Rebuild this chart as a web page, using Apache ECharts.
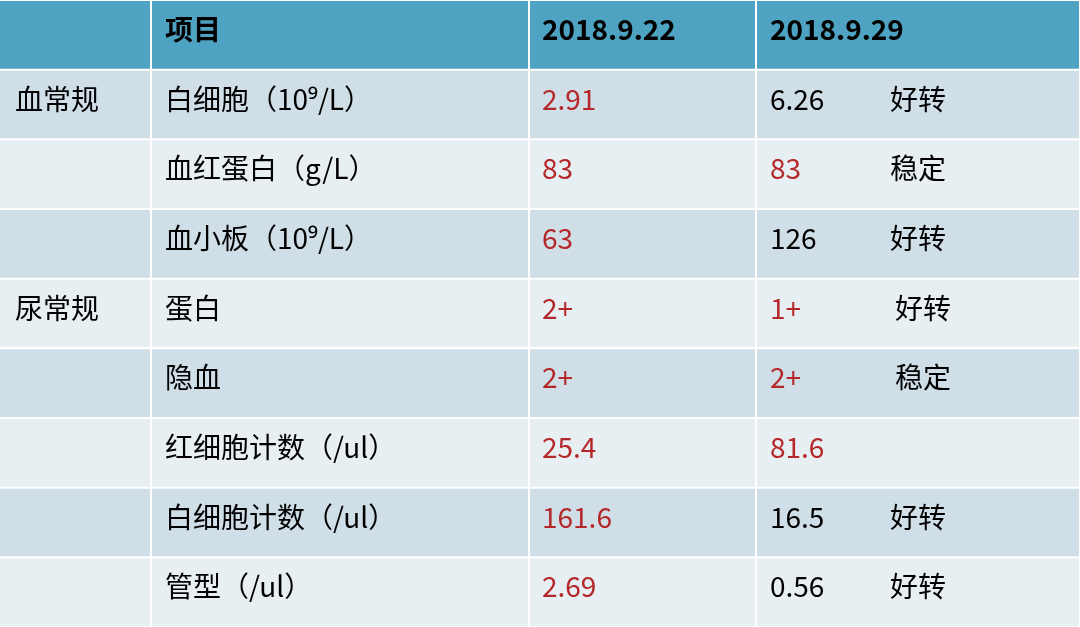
<!DOCTYPE html>
<html><head><meta charset="utf-8">
<script src="https://cdn.jsdelivr.net/npm/echarts@6/dist/echarts.min.js"></script>
<style>html,body{margin:0;padding:0;background:#fff}#c{width:1080px;height:627px}</style>
</head><body><div id="c"></div>
<script>
const header = ['', '项目', '2018.9.22', '2018.9.29'];
const groups = ['血常规', '', '', '尿常规', '', '', '', ''];
const items = ['白细胞（10⁹/L）', '血红蛋白（g/L）', '血小板（10⁹/L）', '蛋白', '隐血', '红细胞计数（/ul）', '白细胞计数（/ul）', '管型（/ul）'];
const val1 = ['2.91', '83', '63', '2+', '2+', '25.4', '161.6', '2.69'];
const val1Red = [true, true, true, true, true, true, true, true];
const val2 = ['6.26', '83', '126', '1+', '2+', '81.6', '16.5', '0.56'];
const val2Red = [false, true, false, true, true, true, false, false];
const status = ['好转', '稳定', '好转', '好转', '稳定', '', '好转', '好转'];

const W = 1080;
const edges = [0, 151, 529, 756, 1080];
const textX = [15, 165, 542, 770];
const statusX = [890, 890, 890, 895, 895, 890, 890, 890];
const RED = '#b5282a';
const FONT = '"Noto Sans CJK SC", "Noto Sans", sans-serif';

const rows = [];
rows.push({cells: header, colors: ['#000','#000','#000','#000'], st: '', stX: 0, head: true});
for (let i = 0; i < items.length; i++) {
  rows.push({cells: [groups[i], items[i], val1[i], val2[i]],
    colors: ['#000', '#000', val1Red[i] ? RED : '#000', val2Red[i] ? RED : '#000'],
    st: status[i], stX: statusX[i], head: false});
}

const chart = echarts.init(document.getElementById('c'));
chart.setOption({
  animation: false,
  grid: {left: 0, right: 0, top: 0, bottom: 0},
  xAxis: {type: 'value', min: 0, max: W, show: false},
  yAxis: {type: 'category', inverse: true, data: rows.map((r, i) => i), show: false},
  series: [{
    type: 'custom',
    data: rows.map((r, i) => [0, i]),
    renderItem: function (params, api) {
      const idx = api.value(1);
      const r = rows[idx];
      const cy = api.coord([0, idx])[1];
      const h = api.size([0, 1])[1];
      const top = cy - h / 2;
      const x0 = api.coord([0, idx])[0];
      const sx = api.size([1, 0])[0];
      const bg = r.head ? '#4fa3c2' : (idx % 2 === 1 ? '#cfdee7' : '#e7eff3');
      const children = [];
      for (let c = 0; c < 4; c++) {
        children.push({type: 'rect', shape: {x: x0 + edges[c] * sx + (c ? 1 : 0), y: top + 1, width: (edges[c + 1] - edges[c]) * sx - (c ? 1 : 0) - 1, height: h - 2},
          style: {fill: (r.head && c === 0) ? '#4fa3c2' : bg}});
        if (r.cells[c]) children.push({type: 'text', x: x0 + textX[c] * sx, y: top + h * 0.42,
          style: {text: r.cells[c], fill: r.colors[c], font: (r.head ? 'bold ' : '') + '28px ' + FONT, verticalAlign: 'middle', align: 'left'}});
      }
      if (r.st) children.push({type: 'text', x: x0 + r.stX * sx, y: top + h * 0.42,
        style: {text: r.st, fill: '#000', font: '28px ' + FONT, verticalAlign: 'middle'}});
      return {type: 'group', children: children};
    }
  }]
});
</script></body></html>
